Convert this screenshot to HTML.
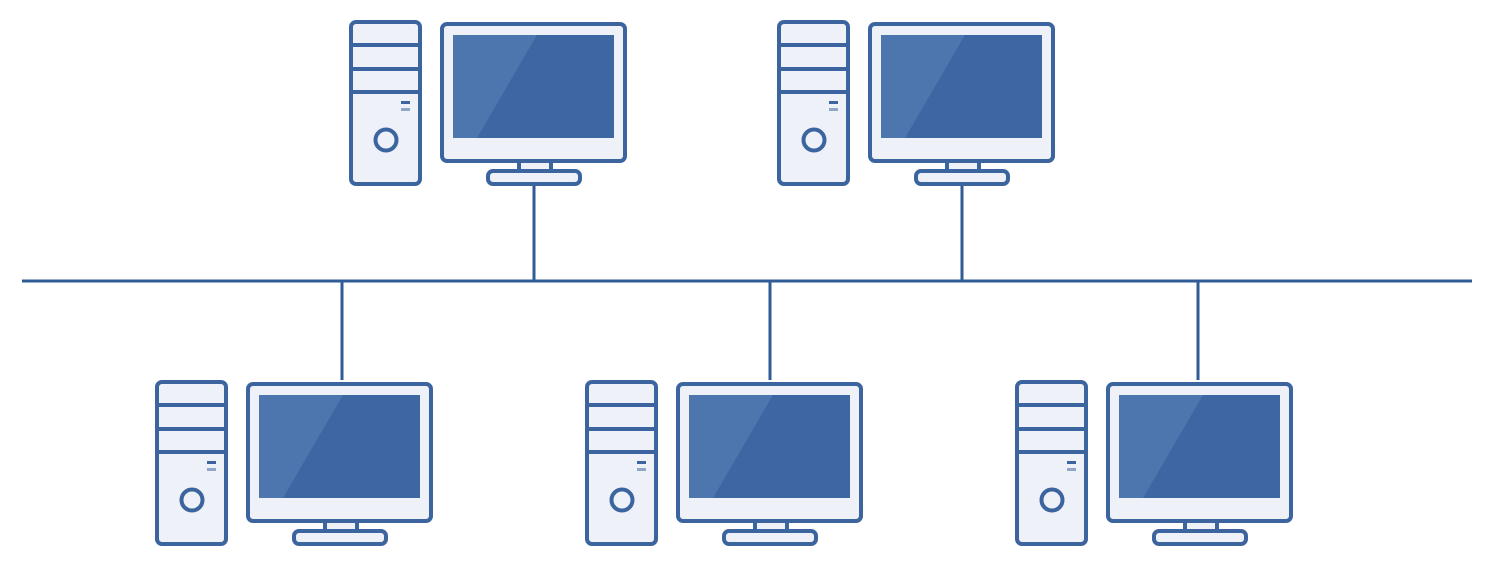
<!DOCTYPE html>
<html><head><style>html,body{margin:0;padding:0;background:#fff;}svg{display:block}</style></head>
<body>
<svg width="1500" height="582" viewBox="0 0 1500 582" xmlns="http://www.w3.org/2000/svg">
<defs>
<g id="pc">
  <rect x="351" y="22" width="69" height="162" rx="5" fill="#eef1f7" stroke="#3c65a0" stroke-width="4"/>
  <line x1="351" y1="45" x2="420" y2="45" stroke="#3c65a0" stroke-width="4"/>
  <line x1="351" y1="69" x2="420" y2="69" stroke="#3c65a0" stroke-width="4"/>
  <line x1="351" y1="92" x2="420" y2="92" stroke="#3c65a0" stroke-width="4"/>
  <rect x="401" y="101" width="9" height="3" fill="#3c65a0"/>
  <rect x="401" y="108" width="9" height="3" fill="#8fa6c8"/>
  <circle cx="386" cy="140" r="10.5" fill="#eef1f7" stroke="#3c65a0" stroke-width="4"/>
  <rect x="442" y="24" width="183" height="137" rx="5" fill="#eef1f7" stroke="#3c65a0" stroke-width="4"/>
  <rect x="453" y="35" width="161" height="103" fill="#3d66a2"/>
  <polygon points="453,35 537,35 477,138 453,138" fill="#4d76ae"/>
  <rect x="519" y="161" width="32" height="10" fill="#eef1f7" stroke="#3c65a0" stroke-width="4"/>
  <rect x="488" y="171" width="92" height="13" rx="5" fill="#eef1f7" stroke="#3c65a0" stroke-width="4"/>
</g>
</defs>
<line x1="22" y1="281" x2="1472" y2="281" stroke="#2f5b97" stroke-width="3"/>
<line x1="534" y1="186" x2="534" y2="281" stroke="#2f5b97" stroke-width="3"/>
<line x1="962" y1="186" x2="962" y2="281" stroke="#2f5b97" stroke-width="3"/>
<line x1="342" y1="281" x2="342" y2="380" stroke="#2f5b97" stroke-width="3"/>
<line x1="770" y1="281" x2="770" y2="380" stroke="#2f5b97" stroke-width="3"/>
<line x1="1198" y1="281" x2="1198" y2="380" stroke="#2f5b97" stroke-width="3"/>
<use href="#pc"/>
<use href="#pc" transform="translate(428,0)"/>
<use href="#pc" transform="translate(-194,360)"/>
<use href="#pc" transform="translate(236,360)"/>
<use href="#pc" transform="translate(666,360)"/>
</svg>
</body></html>
